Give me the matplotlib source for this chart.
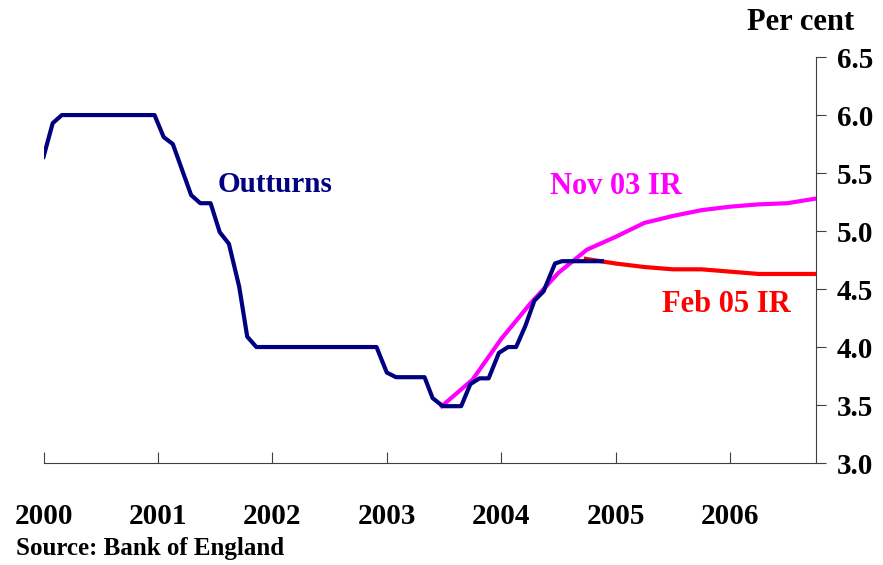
import matplotlib
matplotlib.use('Agg')
import matplotlib.pyplot as plt

plt.rcParams['font.family'] = ['Liberation Serif', 'DejaVu Serif']
plt.rcParams['font.weight'] = 'bold'

# Bank Rate outturns (decimal years, per cent)
out_x = [2000.00, 2000.08, 2000.16, 2000.97, 2001.05, 2001.13, 2001.29, 2001.37,
         2001.46, 2001.54, 2001.62, 2001.71, 2001.78, 2001.86, 2002.91, 2003.00,
         2003.08, 2003.33, 2003.40, 2003.49, 2003.65, 2003.73, 2003.81, 2003.89,
         2003.98, 2004.06, 2004.13, 2004.21, 2004.29, 2004.37, 2004.47, 2004.53,
         2004.88]
out_y = [5.64, 5.93, 6.00, 6.00, 5.81, 5.75, 5.31, 5.24,
         5.24, 4.99, 4.89, 4.52, 4.09, 4.00, 4.00, 3.78,
         3.74, 3.74, 3.56, 3.49, 3.49, 3.68, 3.73, 3.73,
         3.95, 4.00, 4.00, 4.18, 4.40, 4.48, 4.72, 4.74,
         4.74]

# November 2003 Inflation Report market path
nov_x = [2003.48, 2003.75, 2004.00, 2004.25, 2004.50, 2004.75, 2005.00, 2005.25,
         2005.50, 2005.75, 2006.00, 2006.25, 2006.50, 2006.75]
nov_y = [3.49, 3.72, 4.07, 4.37, 4.64, 4.84, 4.95, 5.07,
         5.13, 5.18, 5.21, 5.23, 5.24, 5.28]

# February 2005 Inflation Report market path
feb_x = [2004.74, 2005.00, 2005.25, 2005.50, 2005.75, 2006.00, 2006.25, 2006.50, 2006.75]
feb_y = [4.76, 4.72, 4.69, 4.67, 4.67, 4.65, 4.63, 4.63, 4.63]

years = [2000, 2001, 2002, 2003, 2004, 2005, 2006]
yticks = [3.0, 3.5, 4.0, 4.5, 5.0, 5.5, 6.0, 6.5]

fig = plt.figure(figsize=(8.83, 5.65), dpi=100)
ax = fig.add_axes([0.0493, 0.1805, 0.8747, 0.7185])

ax.plot(nov_x, nov_y, color='#FF00FF', lw=3, zorder=2)
ax.plot(feb_x, feb_y, color='#FF0000', lw=3, zorder=3)
ax.plot(out_x, out_y, color='#000080', lw=3, zorder=4)

ax.set_xlim(2000, 2006.75)
ax.set_ylim(3.0, 6.5)

ax.spines['left'].set_visible(False)
ax.spines['top'].set_visible(False)
ax.spines['bottom'].set_color('#404040')
ax.spines['right'].set_color('#404040')

ax.yaxis.tick_right()
ax.set_yticks(yticks)
ax.set_yticklabels([f'{v:.1f}' for v in yticks], fontsize=21, fontweight='bold')
ax.tick_params(axis='y', direction='out', length=7, color='#404040', pad=8)

ax.set_xticks(years)
ax.set_xticklabels([str(y) for y in years], fontsize=21, fontweight='bold')
ax.tick_params(axis='x', direction='in', length=8, color='#404040', pad=29)

ax.text(2002.02, 5.40, 'Outturns', color='#000080', fontsize=21, fontweight='bold',
        ha='center', va='center')
ax.text(2005.0, 5.38, 'Nov 03 IR', color='#FF00FF', fontsize=22, fontweight='bold',
        ha='center', va='center')
ax.text(2005.97, 4.37, 'Feb 05 IR', color='#FF0000', fontsize=22, fontweight='bold',
        ha='center', va='center')

fig.text(0.968, 0.96, 'Per cent', fontsize=22, fontweight='bold', ha='right', va='center')
fig.text(0.018, 0.03, 'Source: Bank of England', fontsize=18, fontweight='bold',
         ha='left', va='center')

fig.savefig('out.png', dpi=100)
